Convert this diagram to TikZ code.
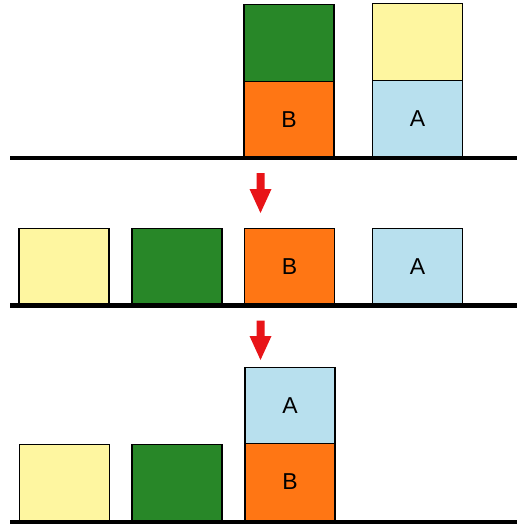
\documentclass[tikz,border=0pt]{standalone}
\usepackage{fontspec}
\setmainfont{Liberation Sans}
\definecolor{cgreen}{RGB}{40,135,40}
\definecolor{corange}{RGB}{255,118,20}
\definecolor{cyellow}{RGB}{254,246,160}
\definecolor{cblue}{RGB}{184,224,238}
\definecolor{cred}{RGB}{232,20,24}
\tikzset{
  block/.style={draw=black, line width=1.2pt, minimum width=90pt, minimum height=76.5pt, inner sep=0pt, font=\fontsize{23}{23}\selectfont},
  ground/.style={line width=4.5pt, black},
  bigarrow/.style={fill=cred, draw=none}
}
\begin{document}
\begin{tikzpicture}[x=1pt,y=-1pt]
\useasboundingbox (0,0) rectangle (517,527);
% top row
\node[block, fill=cgreen] (g1) at (289,43) {};
\node[block, fill=corange] (b1) at (289,119.5) {B};
\node[block, fill=cyellow] (y1) at (417.5,42) {};
\node[block, fill=cblue] (a1) at (417.5,118.5) {A};
\draw[ground] (10,158) -- (517,158);
% arrow 1
\fill[bigarrow] (256.5,173) -- (264.5,173) -- (264.5,189) -- (271.5,189) -- (260.5,213) -- (249.5,189) -- (256.5,189) -- cycle;
% middle row
\node[block, fill=cyellow] (y2) at (64,267) {};
\node[block, fill=cgreen] (g2) at (177,267) {};
\node[block, fill=corange] (b2) at (289.5,267) {B};
\node[block, fill=cblue] (a2) at (417.5,267) {A};
\draw[ground] (10,305.5) -- (517,305.5);
% arrow 2
\fill[bigarrow] (256.5,320.5) -- (264.5,320.5) -- (264.5,336) -- (271.5,336) -- (260.5,360) -- (249.5,336) -- (256.5,336) -- cycle;
% bottom row
\node[block, fill=cblue] (a3) at (290,405.5) {A};
\node[block, fill=corange] (b3) at (290,482) {B};
\node[block, fill=cyellow] (y3) at (64.5,482.5) {};
\node[block, fill=cgreen] (g3) at (177,482.5) {};
\draw[ground] (10,522) -- (517,522);
\end{tikzpicture}
\end{document}
